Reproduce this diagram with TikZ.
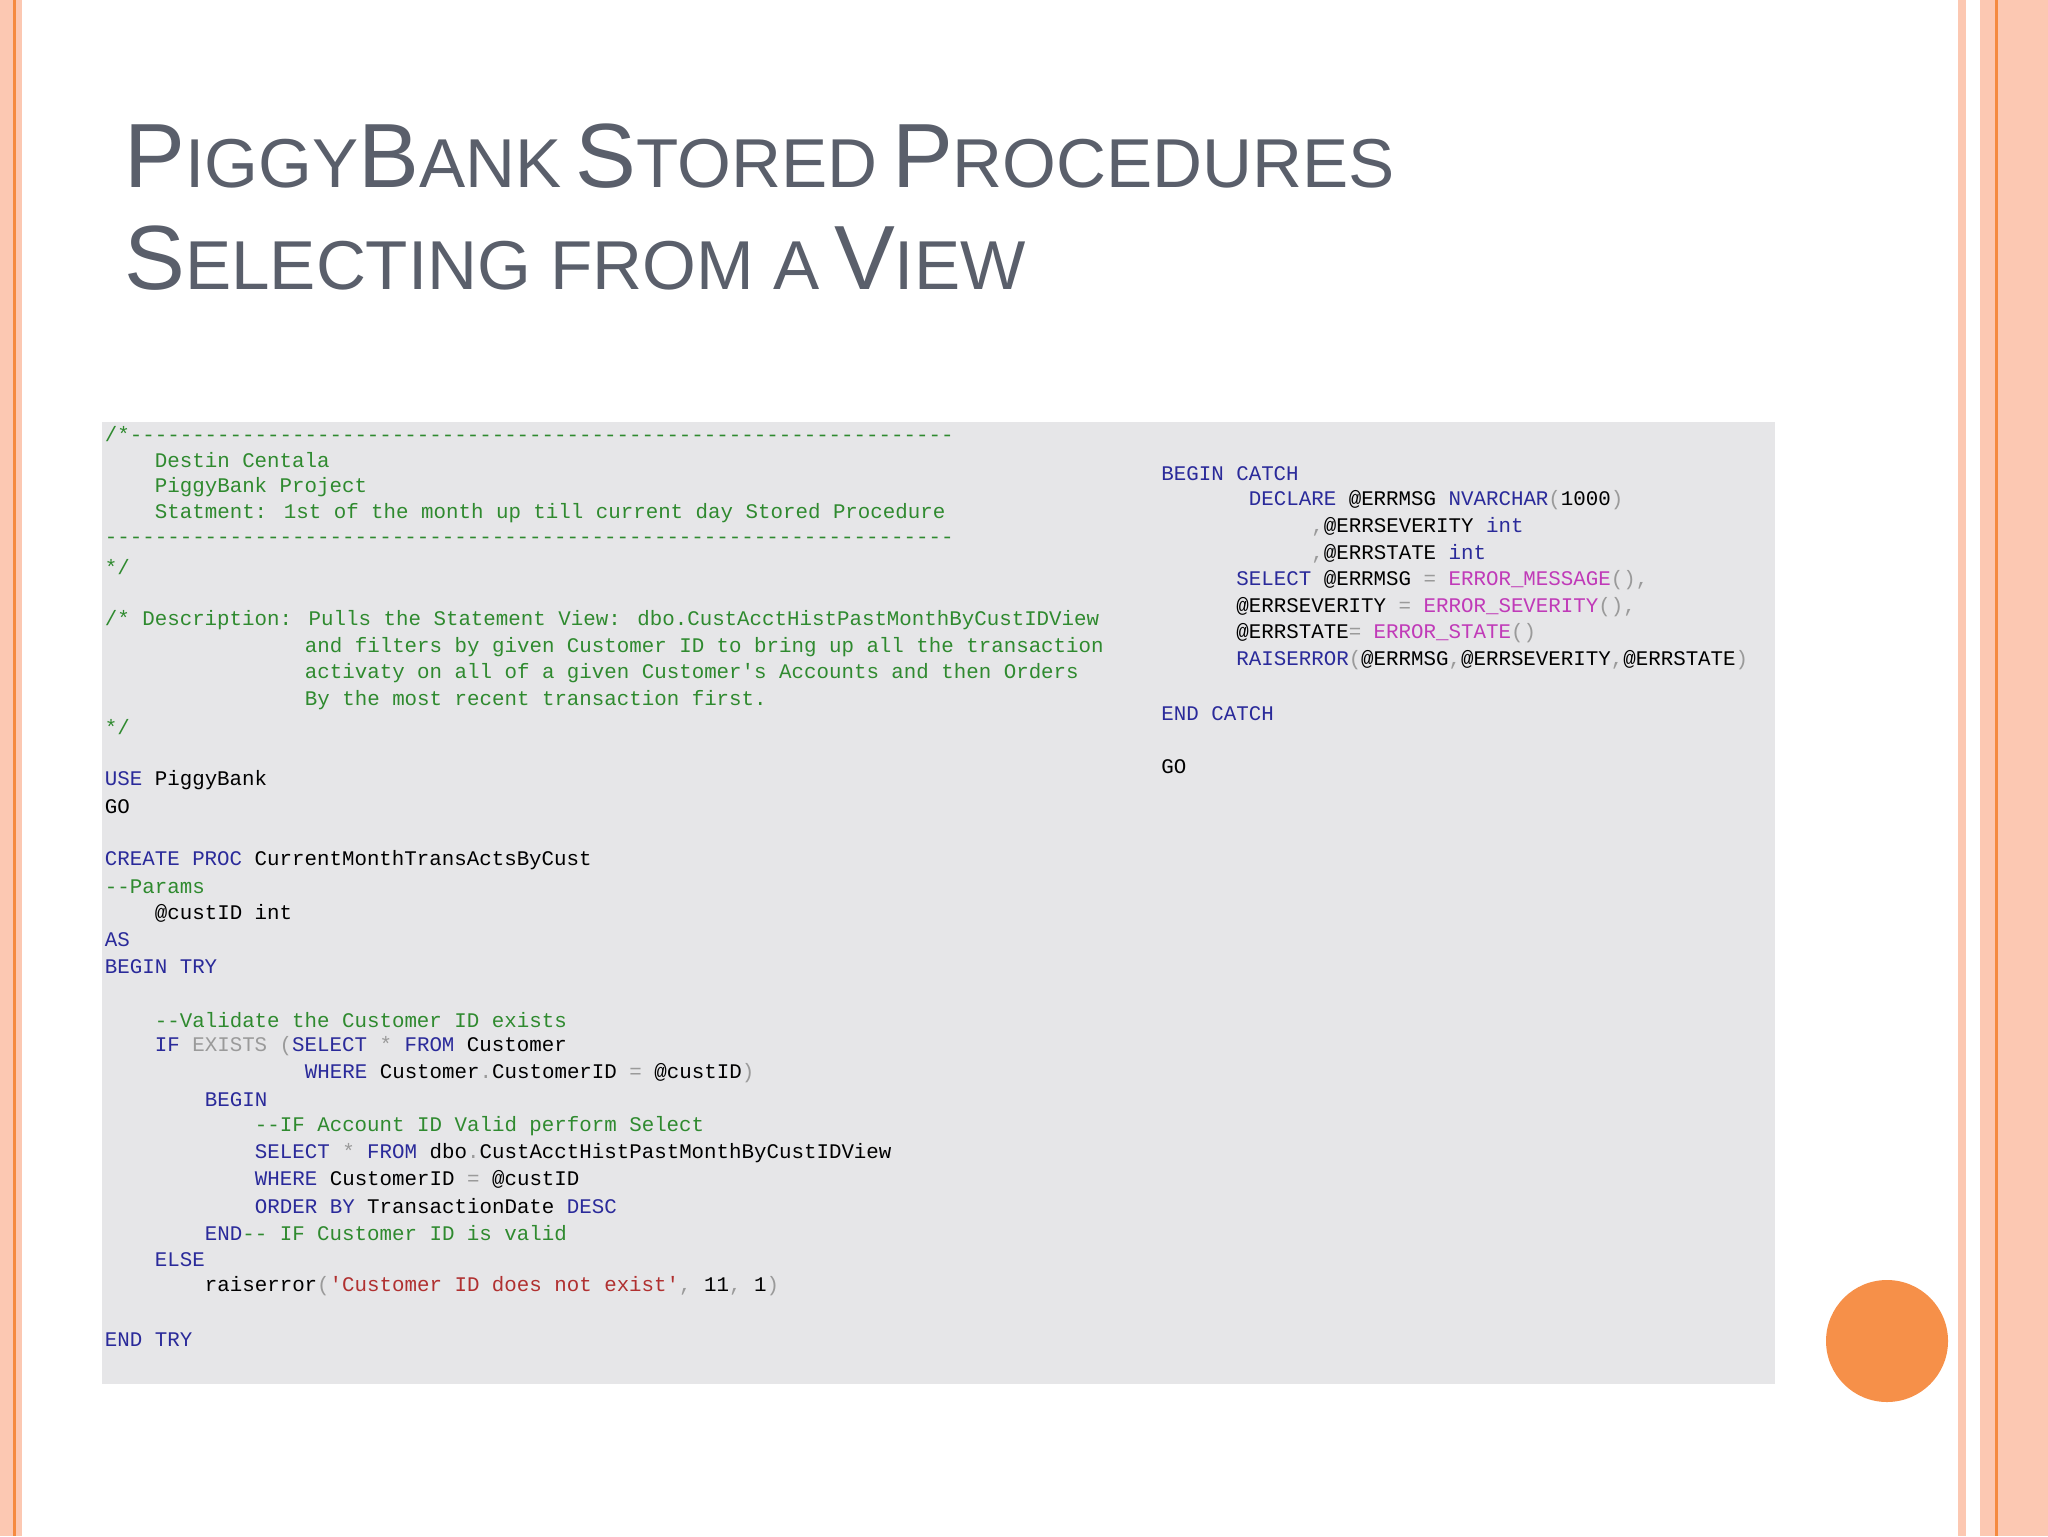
\documentclass[tikz,border=0pt]{standalone}
\usepackage{fontspec}
\setmainfont{Liberation Sans}
\newfontfamily\cf{Liberation Mono}
\definecolor{pale}{HTML}{FCC8B2}
\definecolor{orng}{HTML}{F58A40}
\definecolor{ttl}{HTML}{5A5F6B}
\definecolor{boxg}{HTML}{E6E6E8}
\definecolor{cm}{HTML}{2F8A2F}
\definecolor{kw}{HTML}{2A2A9A}
\definecolor{gr}{HTML}{9A9A9A}
\definecolor{st}{HTML}{B03030}
\definecolor{fn}{HTML}{C03AB8}
\newcommand\Bg[1]{{\fontsize{45.6}{50}\selectfont #1}}
\newcommand\Sm[1]{{\fontsize{34.6}{40}\selectfont #1}}
\newcommand\K[1]{\textcolor{kw}{#1}}
\newcommand\C[1]{\textcolor{cm}{#1}}
\newcommand\G[1]{\textcolor{gr}{#1}}
\newcommand\R[1]{\textcolor{st}{#1}}
\newcommand\F[1]{\textcolor{fn}{#1}}
\newcommand\codeL[4]{\node[code] (#1) at ({104.5+#2*12.5},{433.6+#3*26.65}) {#4};}
\newcommand\codeR[4]{\node[code] (#1) at ({1161+#2*12.5},{473.6+#3*26.65}) {#4};}
\tikzset{code/.style={anchor=west,inner sep=0pt,font=\cf\fontsize{10.4}{12}\selectfont,text=black}}
\begin{document}
\begin{tikzpicture}[x=0.5pt,y=-0.5pt]
\useasboundingbox (0,0) rectangle (2048,1536);
\fill[white] (0,0) rectangle (2048,1536);
% left border
\fill[pale] (0,0) rectangle (22,1536);
\fill[orng] (13,0) rectangle (16,1536);
% right border
\fill[pale] (1958,0) rectangle (1966,1536);
\fill[pale] (1980,0) rectangle (2048,1536);
\fill[orng] (1995,0) rectangle (1998,1536);
% title
\node[anchor=base west,inner sep=0pt,text=ttl,font=\fontsize{26}{44}\selectfont] (t1) at (124,187) {\Bg{P}\Sm{IGGY}\Bg{B}\Sm{ANK} \Bg{S}\Sm{TORED} \Bg{P}\Sm{ROCEDURES}};
\node[anchor=base west,inner sep=0pt,text=ttl,font=\fontsize{26}{44}\selectfont] (t2) at (124,289) {\Bg{S}\Sm{ELECTING FROM A} \Bg{V}\Sm{IEW}};
% code box
\fill[boxg] (102,422) rectangle (1775,1384);
\codeL{a0}{0}{0}{\C{/*------------------------------------------------------------------}}
\codeL{a1}{4}{1}{\C{Destin Centala}}
\codeL{a2}{4}{2}{\C{PiggyBank Project}}
\codeL{a3}{4}{3}{\C{Statment: 1st of the month up till current day Stored Procedure}}
\codeL{a4}{0}{4}{\C{--------------------------------------------------------------------}}
\codeL{a5}{0}{5}{\C{*/}}
\codeL{a7}{0}{7}{\C{/* Description: Pulls the Statement View: dbo.CustAcctHistPastMonthByCustIDView}}
\codeL{a8}{16}{8}{\C{and filters by given Customer ID to bring up all the transaction}}
\codeL{a9}{16}{9}{\C{activaty on all of a given Customer's Accounts and then Orders}}
\codeL{a10}{16}{10}{\C{By the most recent transaction first.}}
\codeL{a11}{0}{11}{\C{*/}}
\codeL{a13}{0}{13}{\K{USE} PiggyBank}
\codeL{a14}{0}{14}{GO}
\codeL{a16}{0}{16}{\K{CREATE PROC} CurrentMonthTransActsByCust}
\codeL{a17}{0}{17}{\C{--Params}}
\codeL{a18}{4}{18}{@custID int}
\codeL{a19}{0}{19}{\K{AS}}
\codeL{a20}{0}{20}{\K{BEGIN TRY}}
\codeL{a22}{4}{22}{\C{--Validate the Customer ID exists}}
\codeL{a23}{4}{23}{\K{IF} \G{EXISTS (}\K{SELECT} \G{*} \K{FROM} Customer}
\codeL{a24}{16}{24}{\K{WHERE} Customer\G{.}CustomerID \G{=} @custID\G{)}}
\codeL{a25}{8}{25}{\K{BEGIN}}
\codeL{a26}{12}{26}{\C{--IF Account ID Valid perform Select}}
\codeL{a27}{12}{27}{\K{SELECT} \G{*} \K{FROM} dbo\G{.}CustAcctHistPastMonthByCustIDView}
\codeL{a28}{12}{28}{\K{WHERE} CustomerID \G{=} @custID}
\codeL{a29}{12}{29}{\K{ORDER BY} TransactionDate \K{DESC}}
\codeL{a30}{8}{30}{\K{END}\C{-- IF Customer ID is valid}}
\codeL{a31}{4}{31}{\K{ELSE}}
\codeL{a32}{8}{32}{raiserror\G{(}\R{'Customer ID does not exist'}\G{,} 11\G{,} 1\G{)}}
\codeL{a34}{0}{34}{\K{END TRY}}
\codeR{b0}{0}{0}{\K{BEGIN CATCH}}
\codeR{b1}{7}{1}{\K{DECLARE} @ERRMSG \K{NVARCHAR}\G{(}1000\G{)}}
\codeR{b2}{12}{2}{\G{,}@ERRSEVERITY \K{int}}
\codeR{b3}{12}{3}{\G{,}@ERRSTATE \K{int}}
\codeR{b4}{6}{4}{\K{SELECT} @ERRMSG \G{=} \F{ERROR\_MESSAGE}\G{(),}}
\codeR{b5}{6}{5}{@ERRSEVERITY \G{=} \F{ERROR\_SEVERITY}\G{(),}}
\codeR{b6}{6}{6}{@ERRSTATE\G{=} \F{ERROR\_STATE}\G{()}}
\codeR{b7}{6}{7}{\K{RAISERROR}\G{(}@ERRMSG\G{,}@ERRSEVERITY\G{,}@ERRSTATE\G{)}}
\codeR{b9}{0}{9}{\K{END CATCH}}
\codeR{b11}{0}{11}{GO}
% circle
\fill[orng!95!white] (1887,1341) circle (61);
\end{tikzpicture}
\end{document}
